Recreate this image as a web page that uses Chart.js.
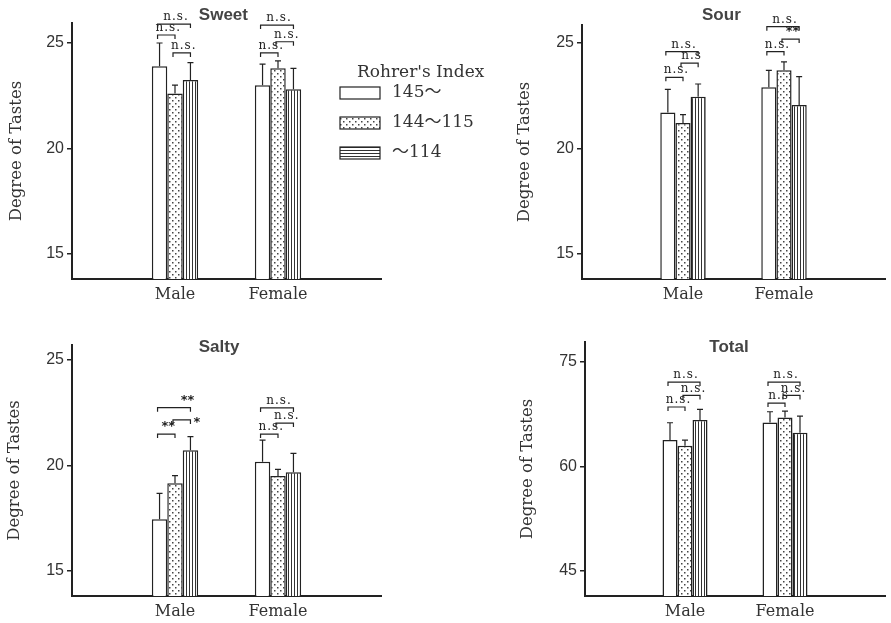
<!DOCTYPE html>
<html>
<head>
<meta charset="utf-8">
<script src="https://cdn.jsdelivr.net/npm/chart.js@4.4.0/dist/chart.umd.min.js"></script>
<style>
body { margin: 0; background: #fff; }
#wrap { position: relative; width: 891px; height: 623px; overflow: hidden; background: #fff; }
canvas { position: absolute; }
</style>
</head>
<body>
<div id="wrap">
  <canvas id="sweet" width="500" height="310" style="left:0;top:0"></canvas>
  <canvas id="sour" width="391" height="310" style="left:500px;top:0"></canvas>
  <canvas id="salty" width="400" height="313" style="left:0;top:310px"></canvas>
  <canvas id="total" width="391" height="313" style="left:500px;top:310px"></canvas>
</div>
<script>
// data
const groups = ['Male', 'Female'];
const seriesNames = ['145～', '144～115', '～114'];
const legendTitle = "Rohrer's Index";
const yTitle = 'Degree of Tastes';

// one row per Rohrer's index class, [male, female]
const sweetMean = [[23.9, 23.0], [22.6, 23.8], [23.25, 22.8]];
const sweetSE = [[1.1, 1.0], [0.4, 0.35], [0.82, 1.0]];
const sourMean = [[21.7, 22.9], [21.2, 23.7], [22.45, 22.05]];
const sourSE = [[1.1, 0.8], [0.4, 0.4], [0.6, 1.35]];
const saltyMean = [[17.45, 20.18], [19.16, 19.5], [20.73, 19.68]];
const saltySE = [[1.23, 1.02], [0.36, 0.32], [0.64, 0.9]];
const totalMean = [[63.8, 66.3], [62.98, 67.05], [66.66, 64.85]];
const totalSE = [[2.48, 1.56], [0.82, 0.9], [1.54, 2.39]];

const tasteTicks = [15, 20, 25];
const totalTicks = [45, 60, 75];

// [group, from series, to series, level, label, where]
const sweetBrackets = [
  [0, 0, 2, 25.9, 'n.s.', 'c'], [0, 0, 1, 25.38, 'n.s.', 'c'], [0, 1, 2, 24.53, 'n.s.', 'c'],
  [1, 0, 2, 25.85, 'n.s.', 'c'], [1, 1, 2, 25.06, 'n.s.', 'c'], [1, 0, 1, 24.53, 'n.s.', 'c']
];
const sourBrackets = [
  [0, 0, 2, 24.59, 'n.s.', 'c'], [0, 1, 2, 24.04, 'n.s', 'c'], [0, 0, 1, 23.37, 'n.s.', 'c'],
  [1, 0, 2, 25.77, 'n.s.', 'c'], [1, 1, 2, 25.18, '**', 'c'], [1, 0, 1, 24.59, 'n.s.', 'c']
];
const saltyBrackets = [
  [0, 0, 2, 22.74, '**', 'e'], [0, 1, 2, 22.16, '*', 'r'], [0, 0, 1, 21.49, '**', 'c'],
  [1, 0, 2, 22.73, 'n.s.', 'c'], [1, 1, 2, 22.01, 'n.s.', 'c'], [1, 0, 1, 21.49, 'n.s.', 'c']
];
const totalBrackets = [
  [0, 0, 2, 72.12, 'n.s.', 'c'], [0, 1, 2, 70.21, 'n.s.', 'c'], [0, 0, 1, 68.54, 'n.s.', 'c'],
  [1, 0, 2, 72.12, 'n.s.', 'c'], [1, 1, 2, 70.21, 'n.s.', 'c'], [1, 0, 1, 69.11, 'n.s', 'c']
];

const INK = '#222';
const SERIF = '"DejaVu Serif", "Noto Sans CJK JP", serif';

function makePattern(ctx, kind) {
  const c = document.createElement('canvas');
  const g = c.getContext('2d');
  if (kind === 'dots') {
    c.width = 6; c.height = 6;
    g.fillStyle = '#fff'; g.fillRect(0, 0, 6, 6);
    g.fillStyle = '#444';
    g.fillRect(1, 1, 1.5, 1.5);
    g.fillRect(4, 4, 1.5, 1.5);
  } else if (kind === 'vlines') {
    c.width = 3; c.height = 1;
    g.fillStyle = '#fff'; g.fillRect(0, 0, 3, 1);
    g.fillStyle = '#333'; g.fillRect(0, 0, 1, 1);
  } else {
    c.width = 1; c.height = 3;
    g.fillStyle = '#fff'; g.fillRect(0, 0, 1, 3);
    g.fillStyle = '#333'; g.fillRect(0, 0, 1, 1);
  }
  return ctx.createPattern(c, 'repeat');
}

const marks = {
  id: 'marks',
  afterDatasetsDraw(chart, args, opts) {
    const ctx = chart.ctx, y = chart.scales.y;
    ctx.save();
    ctx.strokeStyle = INK;
    ctx.lineWidth = 1.2;
    opts.se.forEach((row, i) => {
      const meta = chart.getDatasetMeta(i);
      row.forEach((e, g) => {
        const bar = meta.data[g + 1];
        const top = y.getPixelForValue(opts.mean[i][g] + e);
        ctx.beginPath();
        ctx.moveTo(bar.x, bar.y);
        ctx.lineTo(bar.x, top);
        ctx.moveTo(bar.x - 3, top);
        ctx.lineTo(bar.x + 3, top);
        ctx.stroke();
      });
    });
    ctx.fillStyle = INK;
    opts.brackets.forEach(([g, a, b, level, label, where]) => {
      const x1 = chart.getDatasetMeta(a).data[g + 1].x - 2;
      const x2 = chart.getDatasetMeta(b).data[g + 1].x;
      const yy = y.getPixelForValue(level);
      ctx.beginPath();
      ctx.moveTo(x1, yy + 4);
      ctx.lineTo(x1, yy);
      ctx.lineTo(x2, yy);
      ctx.lineTo(x2, yy + 4);
      ctx.stroke();
      const stars = label.indexOf('*') >= 0;
      ctx.font = stars ? 'bold 13px "DejaVu Sans"' : '12px ' + SERIF;
      ctx.letterSpacing = stars ? '0px' : '1px';
      if (where === 'r') {
        ctx.textAlign = 'left';
        ctx.textBaseline = 'middle';
        ctx.fillText(label, x2 + 3, yy + 3);
      } else {
        ctx.textAlign = 'center';
        ctx.textBaseline = 'bottom';
        const xc = where === 'e' ? x2 - 3 : (x1 + x2) / 2 + 2;
        ctx.fillText(label, xc, yy - 1);
      }
    });
    ctx.restore();
  },
  afterDraw(chart, args, opts) {
    const a = chart.chartArea, ctx = chart.ctx;
    ctx.save();
    ctx.font = 'bold 17px "Liberation Sans"';
    ctx.fillStyle = '#444';
    ctx.textAlign = 'center';
    ctx.textBaseline = 'middle';
    ctx.fillText(opts.title, a.left + opts.fx * a.width, a.top + opts.dy);
    if (opts.legend) {
      const lx = 340, ly = 87;
      ctx.font = '17px ' + SERIF;
      ctx.fillStyle = '#333';
      ctx.textAlign = 'left';
      ctx.fillText(legendTitle, 357, 73);
      const fills = ['#fff', makePattern(ctx, 'dots'), makePattern(ctx, 'hlines')];
      seriesNames.forEach((name, i) => {
        const by = ly + i * 30;
        ctx.fillStyle = fills[i];
        ctx.fillRect(lx, by, 40, 12);
        ctx.strokeStyle = INK;
        ctx.lineWidth = 1.2;
        ctx.strokeRect(lx, by, 40, 12);
        ctx.fillStyle = '#333';
        ctx.fillText(name, lx + 52, by + 6);
      });
    }
    ctx.restore();
  }
};

function panel(id, mean, se, ticks, brackets, title, box) {
  const canvas = document.getElementById(id);
  const ctx = canvas.getContext('2d');
  const fills = ['#fff', makePattern(ctx, 'dots'), makePattern(ctx, 'vlines')];
  const datasets = mean.map((row, i) => ({
    label: seriesNames[i],
    data: [null, ...row, null],
    backgroundColor: fills[i],
    borderColor: INK,
    borderWidth: 1.5,
    categoryPercentage: 0.45,
    barPercentage: 1
  }));
  return new Chart(ctx, {
    type: 'bar',
    data: { labels: ['', ...groups, ''], datasets: datasets },
    plugins: [marks],
    options: {
      responsive: false,
      animation: false,
      layout: { padding: { top: box.top, right: box.right, left: 0, bottom: 0 } },
      plugins: {
        legend: { display: false },
        tooltip: { enabled: false },
        marks: { mean: mean, se: se, brackets: brackets, title: title, fx: box.fx, dy: box.dy, legend: box.legend }
      },
      scales: {
        x: {
          type: 'category',
          offset: false,
          grid: { display: false, drawTicks: false },
          border: { display: true, color: INK, width: 2 },
          ticks: { font: { family: SERIF, size: 16 }, color: '#333', padding: 6, autoSkip: false, maxRotation: 0 },
          afterFit(s) { s.height = box.xh; }
        },
        y: {
          min: box.min,
          max: box.max,
          grid: { drawOnChartArea: false, tickLength: 5, color: INK, lineWidth: 1.5 },
          border: { display: true, color: INK, width: 2 },
          ticks: { font: { family: 'Liberation Sans', size: 16 }, color: '#333', padding: 3 },
          title: { display: true, text: yTitle, font: { family: SERIF, size: 16.5 }, color: '#333', padding: { top: box.tp, bottom: 0 } },
          afterBuildTicks(s) { s.ticks = ticks.map(v => ({ value: v })); },
          afterFit(s) { s.width = box.yw; }
        }
      }
    }
  });
}

panel('sweet', sweetMean, sweetSE, tasteTicks, sweetBrackets, 'Sweet',
  { top: 23, right: 119, xh: 31, yw: 72, min: 13.8, max: 25.95, tp: 7, fx: 0.49, dy: -8, legend: true });
panel('sour', sourMean, sourSE, tasteTicks, sourBrackets, 'Sour',
  { top: 25, right: 0, xh: 31, yw: 82, min: 13.8, max: 25.85, tp: 15, fx: 0.46, dy: -10 });
panel('salty', saltyMean, saltySE, tasteTicks, saltyBrackets, 'Salty',
  { top: 35, right: 19, xh: 27, yw: 72, min: 13.82, max: 25.71, tp: 5, fx: 0.476, dy: 2 });
panel('total', totalMean, totalSE, totalTicks, totalBrackets, 'Total',
  { top: 32, right: 0, xh: 27, yw: 85, min: 41.42, max: 77.87, tp: 18, fx: 0.48, dy: 5 });
</script>
</body>
</html>
